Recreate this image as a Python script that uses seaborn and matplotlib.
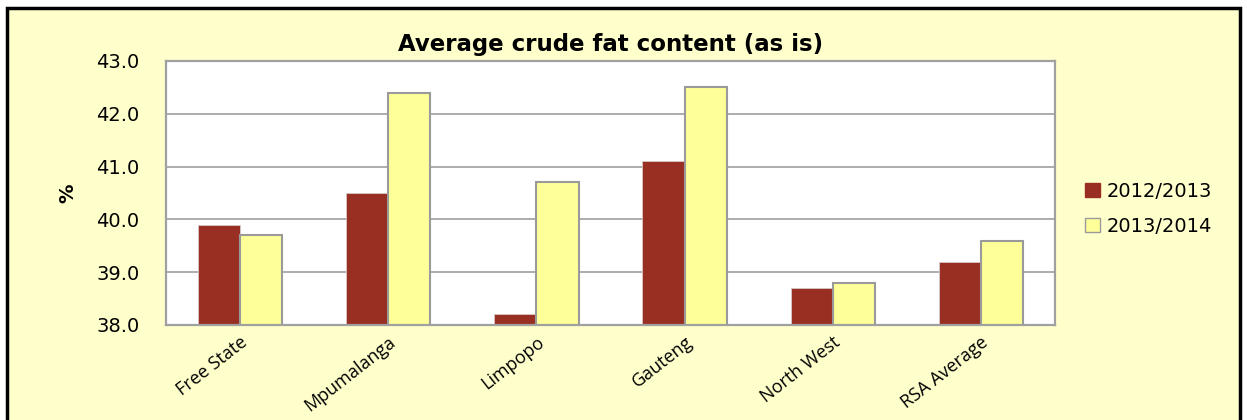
import pandas as pd
import seaborn as sns
import matplotlib.pyplot as plt
from matplotlib.patches import Rectangle

regions = ['Free State', 'Mpumalanga', 'Limpopo', 'Gauteng', 'North West', 'RSA Average']
fat_2012_2013 = [39.9, 40.5, 38.2, 41.1, 38.7, 39.2]
fat_2013_2014 = [39.7, 42.4, 40.7, 42.5, 38.8, 39.6]
seasons = ['2012/2013', '2013/2014']

df = pd.DataFrame({
    'region': regions * 2,
    'season': [seasons[0]] * len(regions) + [seasons[1]] * len(regions),
    'value': fat_2012_2013 + fat_2013_2014,
})

sns.set_style('white')
plt.rcParams['font.family'] = ['DejaVu Sans']
plt.rcParams['text.color'] = 'black'

fig = plt.figure(figsize=(12.47, 4.2), dpi=100, facecolor='white')
fig.patches.append(Rectangle((7 / 1247, -0.1), 1233 / 1247, 1.1 - 8 / 420,
                             transform=fig.transFigure, facecolor='#FFFFCC',
                             edgecolor='black', linewidth=2.5, zorder=-10))
ax = fig.add_axes([166 / 1247, 1 - 325 / 420, 889 / 1247, 264 / 420])

sns.barplot(data=df, x='region', y='value', hue='season', ax=ax,
            palette=['#992E22', '#FFFF99'], width=0.57, gap=0,
            saturation=1, legend=True)

for patch in ax.containers[0]:
    patch.set_edgecolor('#D9C9C9')
    patch.set_linewidth(0.6)
for patch in ax.containers[1]:
    patch.set_edgecolor('#9A9A9A')
    patch.set_linewidth(1.5)

ax.set_facecolor('white')
ax.set_ylim(38, 43)
ax.set_yticks([38, 39, 40, 41, 42, 43])
ax.set_yticklabels([f'{v:.1f}' for v in [38, 39, 40, 41, 42, 43]],
                   fontsize=14, color='black')
ax.yaxis.grid(True, color='#A6A6A6', linewidth=1.3)
ax.set_axisbelow(True)
for s in ax.spines.values():
    s.set_color('#A0A0A0')
    s.set_linewidth(1.6)
ax.tick_params(axis='y', length=0, pad=19)
ax.tick_params(axis='x', length=0, pad=6)
ax.set_xticks(range(len(regions)))
ax.set_xticklabels(regions, rotation=38, ha='right', rotation_mode='anchor',
                   fontsize=13, family=['Open Sans'], color='black')
ax.set_xlabel('')
ax.set_ylabel('%', fontsize=14, fontweight='bold', labelpad=14, color='black')

ax.set_title('Average crude fat content (as is)', fontsize=16.5,
             fontweight='bold', pad=7, color='black')

leg = ax.legend(loc='center left', bbox_to_anchor=(1.014, 0.44), frameon=False,
                fontsize=14, handlelength=0.75, handleheight=0.75,
                handletextpad=0.35, labelspacing=0.85)
leg.legend_handles[1].set_edgecolor('#9A9A9A')
leg.legend_handles[0].set_edgecolor('#992E22')

plt.savefig('out.png', dpi=100, facecolor=fig.get_facecolor())
